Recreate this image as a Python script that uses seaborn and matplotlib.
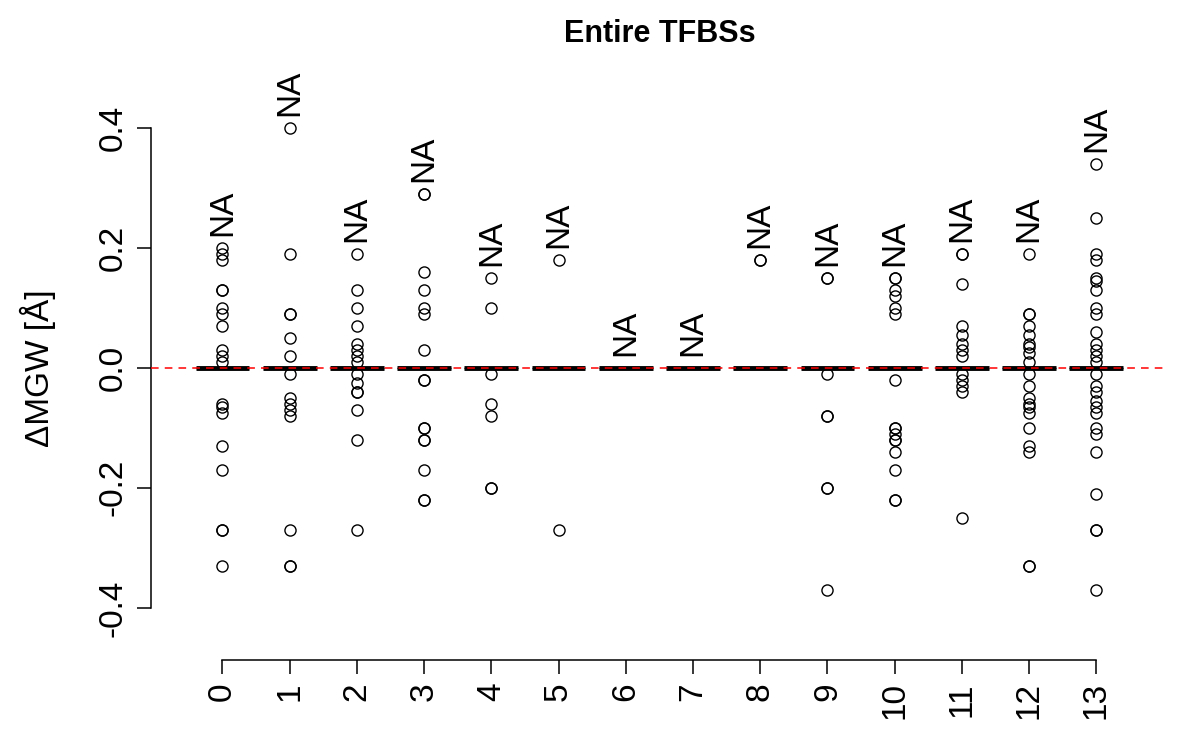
import numpy as np
import pandas as pd
import matplotlib
matplotlib.use('Agg')
import matplotlib.pyplot as plt
import seaborn as sns

# nonzero delta MGW values per group (everything else is 0)
GROUPS = [str(i) for i in range(14)]
g0 = [0.20, 0.19, 0.18, 0.13, 0.13, 0.10, 0.09, 0.07, 0.03, 0.02, 0.01,
      -0.06, -0.065, -0.075, -0.13, -0.17, -0.27, -0.27, -0.33]
g1 = [0.40, 0.19, 0.09, 0.09, 0.05, 0.02, -0.01, -0.05, -0.06, -0.07, -0.08,
      -0.27, -0.33, -0.33]
g2 = [0.19, 0.13, 0.10, 0.07, 0.04, 0.03, 0.02, 0.01, -0.01, -0.025, -0.04,
      -0.04, -0.07, -0.12, -0.27]
g3 = [0.29, 0.29, 0.16, 0.13, 0.10, 0.09, 0.03, -0.02, -0.02, -0.10, -0.10,
      -0.12, -0.12, -0.17, -0.22, -0.22]
g4 = [0.15, 0.10, -0.01, -0.06, -0.08, -0.20, -0.20]
g5 = [0.18, -0.27]
g6 = []
g7 = []
g8 = [0.18, 0.18]
g9 = [0.15, 0.15, -0.01, -0.08, -0.08, -0.20, -0.20, -0.37]
g10 = [0.15, 0.15, 0.13, 0.12, 0.10, 0.09, -0.02, -0.10, -0.10, -0.11, -0.12,
       -0.12, -0.14, -0.17, -0.22, -0.22]
g11 = [0.19, 0.19, 0.14, 0.07, 0.055, 0.04, 0.03, 0.02, -0.01, -0.02, -0.03,
       -0.04, -0.25]
g12 = [0.19, 0.09, 0.09, 0.07, 0.055, 0.04, 0.035, 0.025, 0.01, -0.01, -0.03,
       -0.05, -0.06, -0.065, -0.075, -0.10, -0.13, -0.14, -0.33, -0.33]
g13 = [0.34, 0.25, 0.19, 0.18, 0.15, 0.145, 0.13, 0.10, 0.09, 0.06, 0.04, 0.03,
       0.02, 0.01, -0.01, -0.03, -0.04, -0.055, -0.065, -0.075, -0.10, -0.11,
       -0.14, -0.21, -0.27, -0.27, -0.37]
NONZERO = [g0, g1, g2, g3, g4, g5, g6, g7, g8, g9, g10, g11, g12, g13]
N_ZERO = 120  # most sites show no change

rows = []
for grp, vals in zip(GROUPS, NONZERO):
    for v in list(vals) + [0.0] * N_ZERO:
        rows.append((grp, v))
df = pd.DataFrame(rows, columns=['pos', 'dMGW'])

sns.set_style('white')
plt.rcParams['font.family'] = ['Liberation Sans', 'DejaVu Sans']
for key in ['text.color', 'axes.labelcolor', 'xtick.color', 'ytick.color',
            'axes.edgecolor']:
    plt.rcParams[key] = 'black'

fig = plt.figure(figsize=(12, 7.5), dpi=100)
ax = fig.add_axes([0.126, 0.12, 0.847, 0.779])

sns.boxplot(data=df, x='pos', y='dMGW', order=GROUPS, width=0.8, ax=ax,
            color='white', linecolor='black', linewidth=1,
            medianprops=dict(color='black', linewidth=3.5),
            flierprops=dict(marker='o', markerfacecolor='none',
                            markeredgecolor='black', markersize=8,
                            markeredgewidth=1))

ax.axhline(0, color='red', ls=(0, (5, 4)), lw=1.1, zorder=5)

# "NA" label above each group
for i, vals in enumerate(NONZERO):
    top = max(list(vals) + [0.0])
    ax.text(i, top + 0.02, 'NA', rotation=90, ha='center', va='bottom',
            fontsize=24)

ax.set_xlim(-1.06, 14.06)
ax.set_ylim(-0.487, 0.487)
ax.set_yticks([-0.4, -0.2, 0.0, 0.2, 0.4])
ax.set_yticklabels(['-0.4', '-0.2', '0.0', '0.2', '0.4'], rotation=90, va='center')
ax.tick_params(axis='both', labelsize=24, length=10, width=1.1,
               direction='out', left=True, bottom=True, pad=6)
for side in ['top', 'right']:
    ax.spines[side].set_visible(False)
ax.spines['left'].set_bounds(-0.4, 0.4)
ax.spines['bottom'].set_bounds(0, 13)
for side in ['left', 'bottom']:
    ax.spines[side].set_linewidth(1.1)
for lab in ax.get_xticklabels():
    lab.set_rotation(90)

ax.set_xlabel('')
ax.set_ylabel('ΔMGW [Å]', fontsize=24, labelpad=30)
ax.set_title('Entire TFBSs', fontsize=22, fontweight='bold', pad=24)

fig.savefig('out.png', dpi=100)
